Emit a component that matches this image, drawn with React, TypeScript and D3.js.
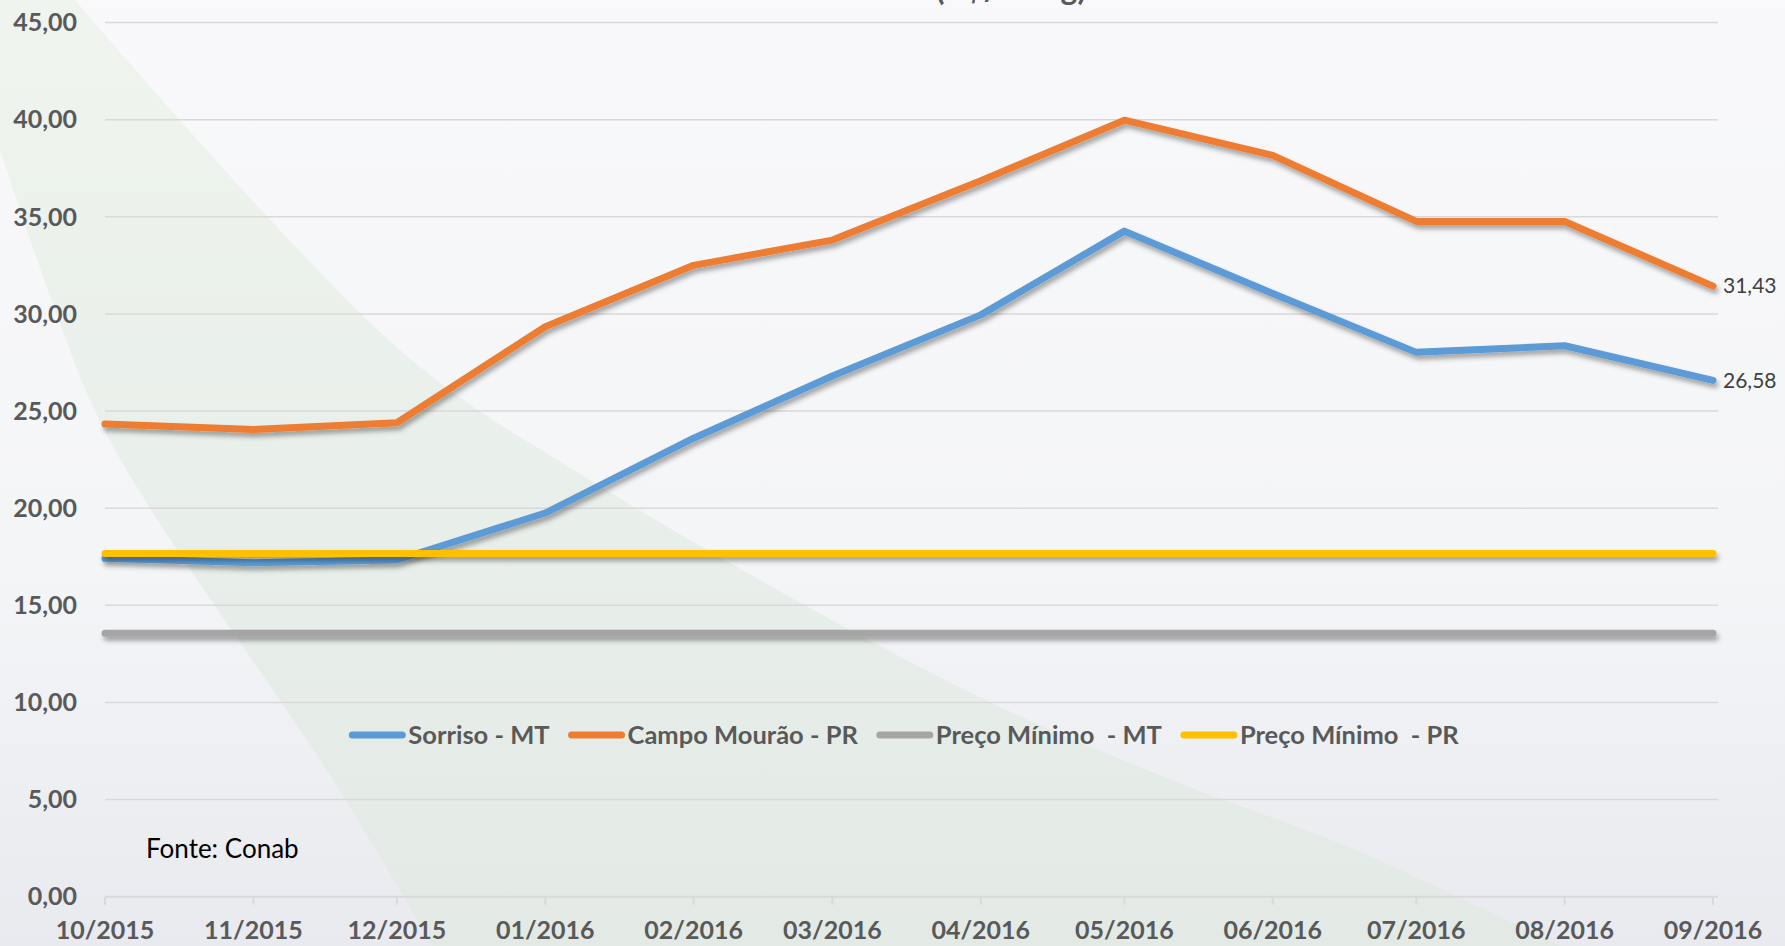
import React, { useEffect, useRef } from "react";
import * as d3 from "d3";

const W = 1785;
const H = 946;

const months = ["2015-10-01","2015-11-01","2015-12-01","2016-01-01","2016-02-01","2016-03-01","2016-04-01","2016-05-01","2016-06-01","2016-07-01","2016-08-01","2016-09-01"];
const sorriso = [17.42, 17.19, 17.33, 19.75, 23.6, 26.8, 29.95, 34.26, 31.05, 28.02, 28.36, 26.58];
const campoMourao = [24.33, 24.05, 24.4, 29.34, 32.5, 33.8, 36.85, 39.97, 38.16, 34.76, 34.76, 31.43];
const precoMinMT = [13.56, 13.56, 13.56, 13.56, 13.56, 13.56, 13.56, 13.56, 13.56, 13.56, 13.56, 13.56];
const precoMinPR = [17.67, 17.67, 17.67, 17.67, 17.67, 17.67, 17.67, 17.67, 17.67, 17.67, 17.67, 17.67];
const seriesNames = ["Sorriso - MT", "Campo Mourão - PR", "Preço Mínimo  - MT", "Preço Mínimo  - PR"];
const seriesColors = ["#5B9BD5", "#ED7D31", "#A5A5A5", "#FFC000"];
const yTicks = [0, 5, 10, 15, 20, 25, 30, 35, 40, 45];
const titleText = "(R$/ 60kg)";
const sourceText = "Fonte: Conab";

export default function App() {
  const ref = useRef<SVGSVGElement | null>(null);

  useEffect(() => {
    const svg = d3.select(ref.current);
    svg.selectAll("*").remove();
    const font = "Lato, 'Open Sans', sans-serif";
    const dates = months.map((m) => d3.timeParse("%Y-%m-%d")(m) as Date);
    const x = d3.scaleTime().domain([dates[0], dates[dates.length - 1]]).range([105, 1713]);
    const y = d3.scaleLinear().domain([0, 45]).range([896.7, 22.5]);

    const defs = svg.append("defs");
    const bg = defs.append("linearGradient").attr("id", "bg").attr("x1", 0).attr("y1", 0).attr("x2", 0).attr("y2", 1);
    bg.append("stop").attr("offset", "0%").attr("stop-color", "#f9f9fb");
    bg.append("stop").attr("offset", "60%").attr("stop-color", "#f4f5f7");
    bg.append("stop").attr("offset", "100%").attr("stop-color", "#e8eaef");
    const gr = defs.append("linearGradient").attr("id", "green").attr("x1", 0).attr("y1", 0).attr("x2", 0).attr("y2", 1);
    gr.append("stop").attr("offset", "0%").attr("stop-color", "#eff4ee");
    gr.append("stop").attr("offset", "100%").attr("stop-color", "#e3eae6");
    const f = defs.append("filter").attr("id", "shadow").attr("filterUnits", "userSpaceOnUse")
      .attr("x", 0).attr("y", 0).attr("width", W).attr("height", H);
    f.append("feDropShadow").attr("dx", 2).attr("dy", 4).attr("stdDeviation", 2.5).attr("flood-color", "#000").attr("flood-opacity", 0.35);

    svg.append("rect").attr("width", W).attr("height", H).attr("fill", "url(#bg)");

    // decorative swoosh
    const right: [number, number][] = [[75, 0], [400, 350], [590, 480], [965, 690], [1172, 780], [1356, 850], [1560, 946]];
    const left: [number, number][] = [[433, 946], [333, 780], [145, 500], [90, 400], [0, 150]];
    const curve = d3.line().curve(d3.curveCatmullRom);
    const pathD = "M0,0 " + (curve(right) as string).replace(/^M/, "L") + " " + (curve(left) as string).replace(/^M/, "L") + " Z";
    svg.append("path").attr("d", pathD).attr("fill", "url(#green)");

    // gridlines
    svg.append("g").selectAll("line").data(yTicks.filter((t) => t > 0)).join("line")
      .attr("x1", 105).attr("x2", 1718).attr("y1", (d) => y(d)).attr("y2", (d) => y(d))
      .attr("stroke", "#d9d9d9").attr("stroke-width", 1.5);
    // x axis
    svg.append("line").attr("x1", 105).attr("x2", 1718).attr("y1", y(0)).attr("y2", y(0)).attr("stroke", "#d9d9d9").attr("stroke-width", 2);
    svg.append("g").selectAll("line").data(dates).join("line")
      .attr("x1", (d) => x(d)).attr("x2", (d) => x(d)).attr("y1", y(0)).attr("y2", y(0) + 8)
      .attr("stroke", "#d9d9d9").attr("stroke-width", 2);

    // y labels
    svg.append("g").selectAll("text").data(yTicks).join("text")
      .attr("x", 77).attr("y", (d) => y(d)).attr("dy", "0.35em").attr("text-anchor", "end")
      .attr("font-family", font).attr("font-weight", "bold").attr("font-size", 25).attr("fill", "#595959")
      .text((d) => d3.format(".2f")(d).replace(".", ","));

    // x labels
    svg.append("g").selectAll("text").data(dates).join("text")
      .attr("x", (d) => x(d)).attr("y", 939).attr("text-anchor", "middle")
      .attr("font-family", font).attr("font-weight", "bold").attr("font-size", 25).attr("fill", "#595959")
      .text((d) => d3.timeFormat("%m/%Y")(d));

    // title (cut off at top, as in the reference)
    svg.append("text").attr("x", 1011).attr("y", 0).attr("text-anchor", "middle")
      .attr("font-family", font).attr("font-weight", "bold").attr("font-size", 32).attr("fill", "#595959").text(titleText);

    // lines
    const allSeries = [sorriso, campoMourao, precoMinMT, precoMinPR];
    const line = d3.line<number>().x((_, i) => x(dates[i])).y((d) => y(d));
    allSeries.forEach((s, i) => {
      svg.append("path").attr("d", line(s) as string).attr("fill", "none")
        .attr("stroke", seriesColors[i]).attr("stroke-width", 7)
        .attr("stroke-linecap", "round").attr("stroke-linejoin", "round")
        .attr("filter", "url(#shadow)");
    });

    // data labels
    [sorriso, campoMourao].forEach((s) => {
      const v = s[s.length - 1];
      svg.append("text").attr("x", x(dates[dates.length - 1]) + 10).attr("y", y(v)).attr("dy", "0.35em")
        .attr("font-family", font).attr("font-size", 21).attr("fill", "#404040")
        .text(d3.format(".2f")(v).replace(".", ","));
    });

    // legend
    const lg = svg.append("g");
    const swatch = 56, gapST = 3, gapItem = 19;
    let cx = 0;
    seriesNames.forEach((name, i) => {
      const g = lg.append("g").attr("transform", `translate(${cx},0)`);
      g.append("line").attr("x1", 3).attr("x2", swatch - 3).attr("y1", 735).attr("y2", 735)
        .attr("stroke", seriesColors[i]).attr("stroke-width", 7).attr("stroke-linecap", "round");
      const t = g.append("text").attr("x", swatch + gapST).attr("y", 743.5)
        .attr("font-family", font).attr("font-weight", "bold").attr("font-size", 25.5).attr("fill", "#595959")
        .attr("xml:space", "preserve").style("white-space", "pre").text(name);
      const tw = (t.node() as SVGTextElement).getComputedTextLength();
      cx += swatch + gapST + tw + gapItem;
    });
    const total = cx - gapItem;
    lg.attr("transform", `translate(${904 - total / 2},0)`);

    // source
    svg.append("text").attr("x", 146).attr("y", 858)
      .attr("font-family", font).attr("font-size", 26).attr("fill", "#000").text(sourceText);
  }, []);

  return (
    <svg ref={ref} width={W} height={H} style={{ position: "absolute", left: 0, top: 0, display: "block" }} />
  );
}
